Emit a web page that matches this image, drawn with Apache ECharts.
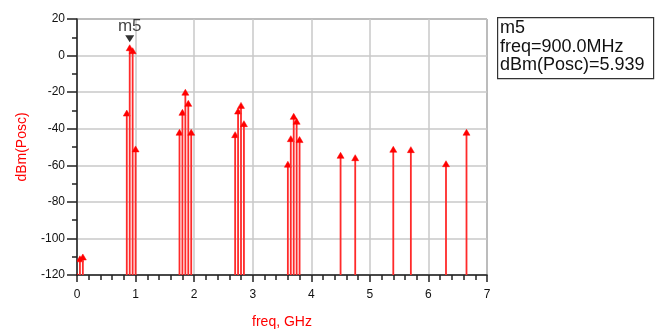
<!DOCTYPE html>
<html>
<head>
<meta charset="utf-8">
<script src="https://cdn.jsdelivr.net/npm/echarts@6/dist/echarts.min.js"></script>
<style>html,body{margin:0;padding:0;background:#fff;overflow:hidden;}#c{width:665px;height:329px;}</style>
</head>
<body>
<div id="c"></div>
<script>
// Spectrum data (freq in GHz, power in dBm)
const freqGHz = [0, 0.05, 0.1, 0.85, 0.9, 0.95, 1.0, 1.75, 1.8, 1.85, 1.9, 1.95, 2.7, 2.75, 2.8, 2.85, 3.6, 3.65, 3.7, 3.75, 3.8, 4.5, 4.75, 5.4, 5.7, 6.3, 6.65];
const dBmPosc = [-119, -109.5, -108.5, -29.8, 5.939, 4.3, -49.4, -40.3, -29.4, -18.4, -24.5, -40.3, -41.6, -28.7, -25.6, -35.6, -57.8, -43.8, -31.6, -34.3, -44.3, -52.9, -54.2, -49.6, -49.8, -57.5, -40.3];
const xTicks = [0, 1, 2, 3, 4, 5, 6, 7];
const yTicks = [20, 0, -20, -40, -60, -80, -100, -120];
const markerName = 'm5';
const markerFreq = 0.9;
const markerValue = 5.939;

const FONT = '"Liberation Sans", Arial, sans-serif';
const data = freqGHz.map((f, i) => [f, dBmPosc[i]]);
const chart = echarts.init(document.getElementById('c'), null, {renderer: 'canvas', width: 665, height: 329});

chart.setOption({
  animation: false,
  backgroundColor: '#fff',
  grid: {left: 77, top: 19, width: 410, height: 256, outerBoundsMode: 'none', containLabel: false,
         show: true, borderColor: '#333', borderWidth: 1},
  xAxis: {
    type: 'value', min: xTicks[0], max: xTicks[xTicks.length - 1], interval: 1,
    name: 'freq, GHz', nameLocation: 'middle', nameGap: 40,
    nameTextStyle: {color: '#ff0000', fontSize: 14, fontFamily: FONT},
    axisLine: {show: true, onZero: false, lineStyle: {color: '#222', width: 1.5}},
    axisTick: {show: true, inside: false, length: 7, lineStyle: {color: '#222', width: 1.5}},
    minorTick: {show: true, splitNumber: 5, length: 5, lineStyle: {color: '#222', width: 1.5}},
    splitLine: {show: true, lineStyle: {color: '#c8c8c8', width: 1.5}},
    axisLabel: {color: '#111', fontSize: 12, fontFamily: FONT, margin: 14}
  },
  yAxis: {
    type: 'value', min: yTicks[yTicks.length - 1], max: yTicks[0], interval: 20,
    name: 'dBm(Posc)', nameLocation: 'middle', nameGap: 48, nameRotate: 90,
    nameTextStyle: {color: '#ff0000', fontSize: 14, fontFamily: FONT},
    axisLine: {show: true, onZero: false, lineStyle: {color: '#222', width: 1.5}},
    axisTick: {show: true, inside: false, length: 10, lineStyle: {color: '#222', width: 1.5}},
    minorTick: {show: true, splitNumber: 2, length: 5, lineStyle: {color: '#222', width: 1.5}},
    splitLine: {show: true, lineStyle: {color: '#c8c8c8', width: 1.5}},
    axisLabel: {color: '#111', fontSize: 12, fontFamily: FONT, margin: 12}
  },
  series: [
    {
      type: 'custom',
      clip: true,
      data: data,
      renderItem: function (params, api) {
        const x = api.value(0), y = api.value(1);
        const top = api.coord([x, y]);
        const base = api.coord([x, yTicks[yTicks.length - 1]]);
        const hw = 3.5, h = 6;
        return {
          type: 'group',
          children: [
            {type: 'line', shape: {x1: top[0], y1: base[1], x2: top[0], y2: top[1] + 2},
             style: {stroke: '#ff2a2a', lineWidth: 1.8}},
            {type: 'polygon', shape: {points: [[top[0], top[1]], [top[0] - hw, top[1] + h], [top[0] + hw, top[1] + h]]},
             style: {fill: '#ff0000', stroke: '#ff0000', lineWidth: 0.5}}
          ]
        };
      },
      z: 3
    },
    {
      type: 'scatter',
      data: [[markerFreq, markerValue]],
      symbol: 'triangle', symbolRotate: 180, symbolSize: [9, 7], symbolOffset: [0, -6],
      itemStyle: {color: '#000'},
      label: {show: true, position: 'top', distance: 0, formatter: markerName, color: '#111', fontSize: 17, fontFamily: FONT},
      z: 5
    }
  ],
  graphic: [
    {type: 'rect', left: 497, top: 17, shape: {width: 156, height: 61},
     style: {fill: '#fff', stroke: '#333', lineWidth: 1.2}},
    {type: 'text', left: 500, top: 19,
     style: {text: markerName + '\nfreq=' + (markerFreq * 1000).toFixed(1) + 'MHz\ndBm(Posc)=' + markerValue.toFixed(3),
             fontSize: 18, lineHeight: 18.5, fontFamily: FONT, fill: '#111'}}
  ]
});
</script>
</body>
</html>
